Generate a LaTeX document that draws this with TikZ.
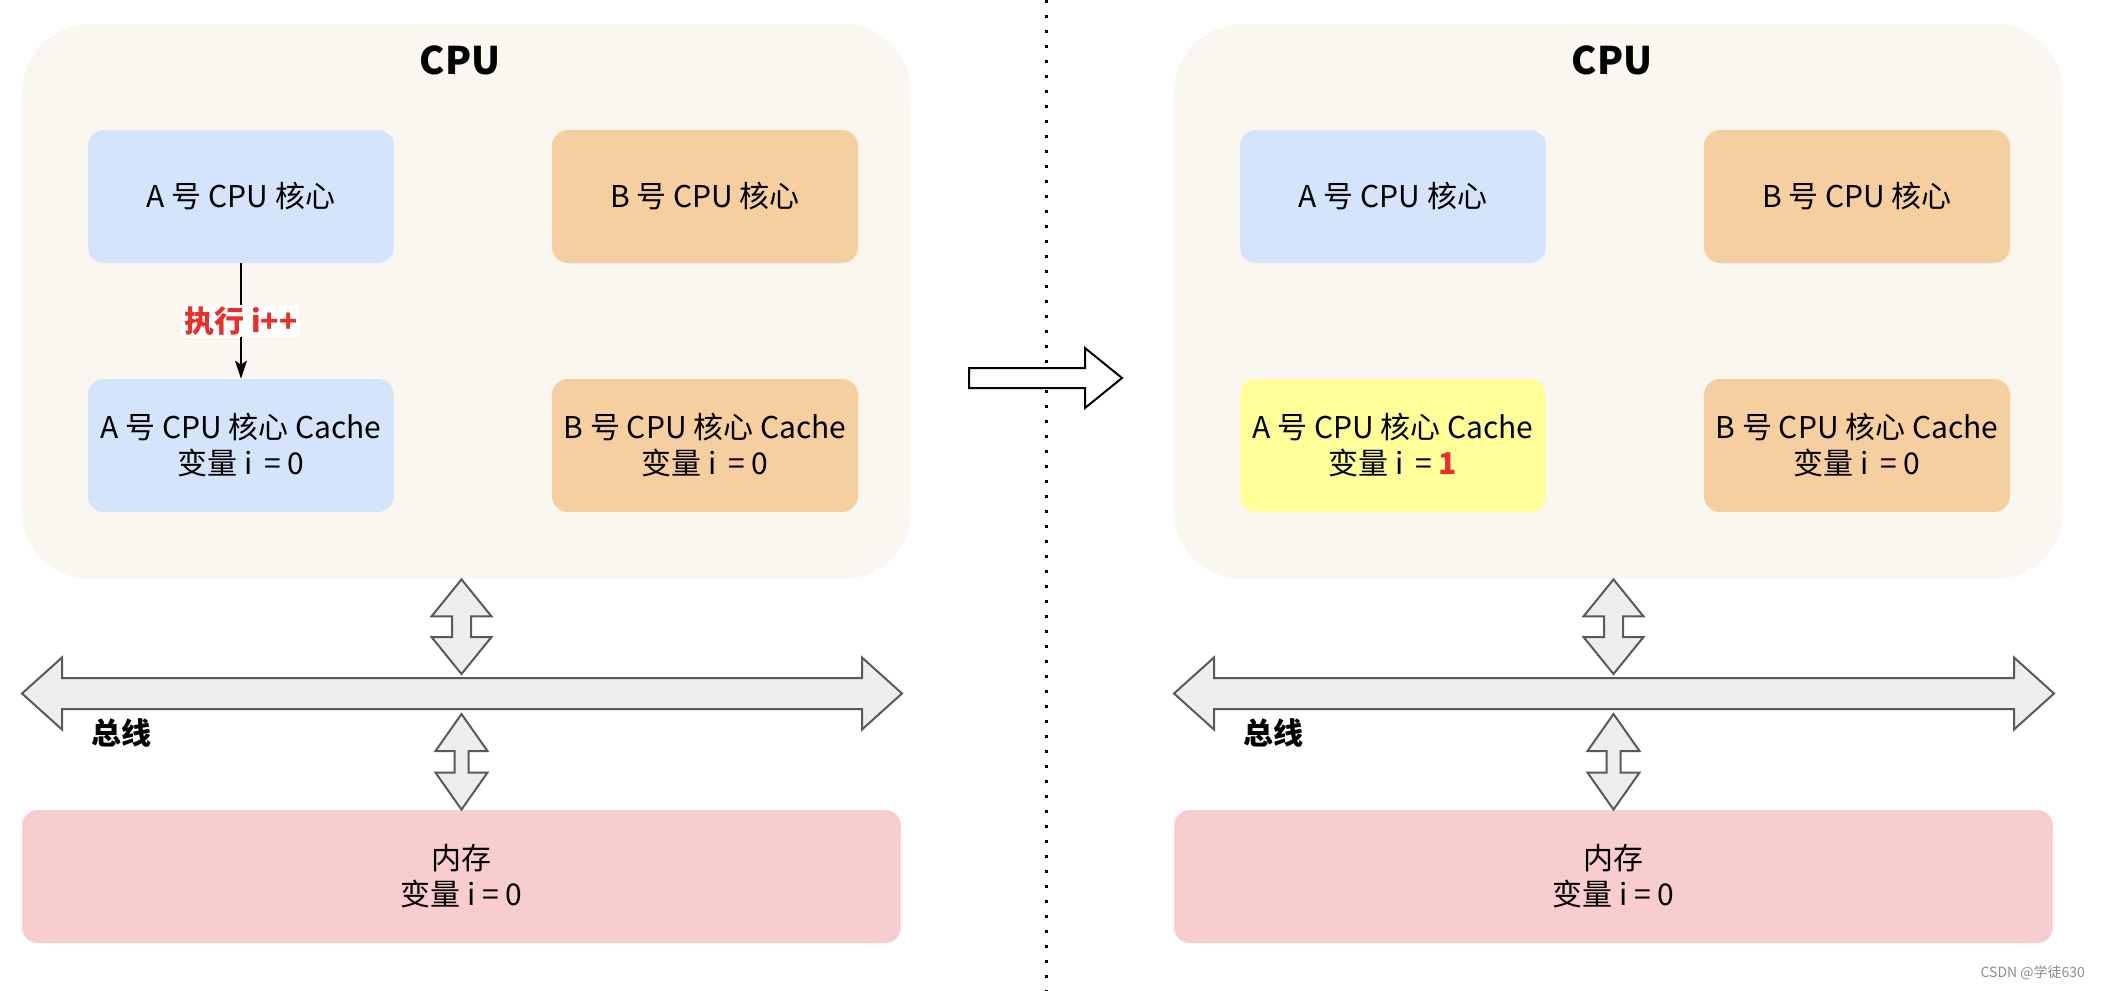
\documentclass[tikz,border=0pt]{standalone}
\usepackage{fontspec}
\setmainfont{Noto Sans CJK SC}
\usetikzlibrary{arrows.meta,calc}

% 颜色
\definecolor{cpubg}{HTML}{F9F7EF}
\definecolor{lanse}{HTML}{D4E4FA}
\definecolor{chengse}{HTML}{F6CFA0}
\definecolor{huangse}{HTML}{FFFF99}
\definecolor{fense}{HTML}{F7CDCD}
\definecolor{huise}{HTML}{EEEEEE}
\definecolor{hongse}{HTML}{E8302A}

% 竖直的粗双向箭头:上端点,下端点,箭头半宽,杆半宽,箭头长
\newcommand{\shubian}[5]{%
  \draw[cujiantou] (#1) -- ($(#1)+(#3,#5)$) -- ($(#1)+(#4,#5)$) -- ($(#2)+(#4,-#5)$)
    -- ($(#2)+(#3,-#5)$) -- (#2) -- ($(#2)+(-#3,-#5)$) -- ($(#2)+(-#4,-#5)$)
    -- ($(#1)+(-#4,#5)$) -- ($(#1)+(-#3,#5)$) -- cycle;}

% 水平的粗双向箭头:左端点,右端点,箭头半高,杆半高,箭头长
\newcommand{\hengbian}[5]{%
  \draw[cujiantou] (#1) -- ($(#1)+(#5,-#3)$) -- ($(#1)+(#5,-#4)$) -- ($(#2)+(-#5,-#4)$)
    -- ($(#2)+(-#5,-#3)$) -- (#2) -- ($(#2)+(-#5,#3)$) -- ($(#2)+(-#5,#4)$)
    -- ($(#1)+(#5,#4)$) -- ($(#1)+(#5,#3)$) -- cycle;}

\begin{document}
\begin{tikzpicture}[x=0.5pt, y=-0.5pt,
  % 1 个单位 = 参考图上的 1 个像素
  hexin/.style={rounded corners=8pt, minimum width=153pt, minimum height=66.5pt,
    inner sep=0pt, align=center, font=\fontsize{15}{18}\selectfont},
  cpukuang/.style={fill=cpubg, rounded corners=34pt, minimum width=444.5pt,
    minimum height=277.5pt, inner sep=0pt},
  neicunkuang/.style={fill=fense, rounded corners=8pt, minimum width=439.5pt,
    minimum height=66.5pt, inner sep=0pt, align=center, font=\fontsize{15}{18}\selectfont},
  cujiantou/.style={fill=huise, draw=black!65, line width=1pt, line join=miter},
  biaoti/.style={font=\fontsize{19}{22}\selectfont\bfseries},
  dianxian/.style={line width=1.5pt, dash pattern=on 1.5pt off 6pt}]

  \useasboundingbox (0,0) rectangle (2106,991);

  % 左右两幅图中相同的部分
  \foreach \dx/\p in {0/L,1152/R} {
    \node[cpukuang] (cpu\p) at (\dx+466.5,301.5) {};
    \node[biaoti] (cputitle\p) at (\dx+460,60) {CPU};
    \node[hexin, fill=lanse] (Acore\p) at (\dx+241,196.5) {A 号 CPU 核心};
    \node[hexin, fill=chengse] (Bcore\p) at (\dx+705,196.5) {B 号 CPU 核心};
    \node[hexin, fill=chengse] (Bcache\p) at (\dx+705,445.5)
      {B 号 CPU 核心 Cache\\变量 i \,= 0};
    \node[neicunkuang] (neicun\p) at (\dx+461.5,876.5) {内存\\变量 i = 0};

    % 总线
    \coordinate (busL\p) at (\dx+22,693.5);
    \coordinate (busR\p) at (\dx+902,693.5);
    \hengbian{busL\p}{busR\p}{36}{15.5}{40}
    \node[font=\fontsize{15}{18}\selectfont\bfseries, anchor=west] (zongxian\p)
      at (\dx+84,733) {总线};

    % CPU 和总线、总线和内存之间的箭头
    \coordinate (shang\p) at (cpu\p.south -| neicun\p.north);
    \coordinate (busT\p) at (\dx+461.5,674);
    \coordinate (busB\p) at (\dx+461.5,714);
    \shubian{shang\p}{busT\p}{30}{9.5}{37}
    \shubian{busB\p}{neicun\p.north}{26}{7}{37}
  }

  % 左图的 A 号 Cache
  \node[hexin, fill=lanse] (AcacheL) at (241,445.5)
    {A 号 CPU 核心 Cache\\变量 i \,= 0};
  \draw[-{Stealth[length=9pt,width=6pt,inset=2pt]}, line width=0.6pt]
    (AcoreL) -- node[fill=white, inner sep=1pt, text=hongse,
      font=\fontsize{15}{18}\selectfont\bfseries] (zhixing) {执行 i++} (AcacheL);

  % 右图的 A 号 Cache
  \node[hexin, fill=huangse] (AcacheR) at (1393,445.5)
    {A 号 CPU 核心 Cache\\变量 i \,= {\color{hongse}\bfseries 1}};

  % 中间的虚线和大箭头
  \coordinate (xianS) at (1046,0);
  \coordinate (xianX) at (1046,991);
  \draw[dianxian] (xianS) -- (xianX);
  \coordinate (jianL) at (969,378);
  \coordinate (jianR) at (1122,378);
  \draw[fill=white, line width=1pt, line join=miter]
    ($(jianL)+(0,-10)$) -- ($(jianR)+(-37,-10)$) -- ($(jianR)+(-37,-30)$) -- (jianR)
    -- ($(jianR)+(-37,30)$) -- ($(jianR)+(-37,10)$) -- ($(jianL)+(0,10)$) -- cycle;

  % 水印
  \node[anchor=east, text=black!45, font=\fontsize{7}{8}\selectfont] (shuiyin)
    at (2092,973) {CSDN @学徒630};

\end{tikzpicture}
\end{document}
